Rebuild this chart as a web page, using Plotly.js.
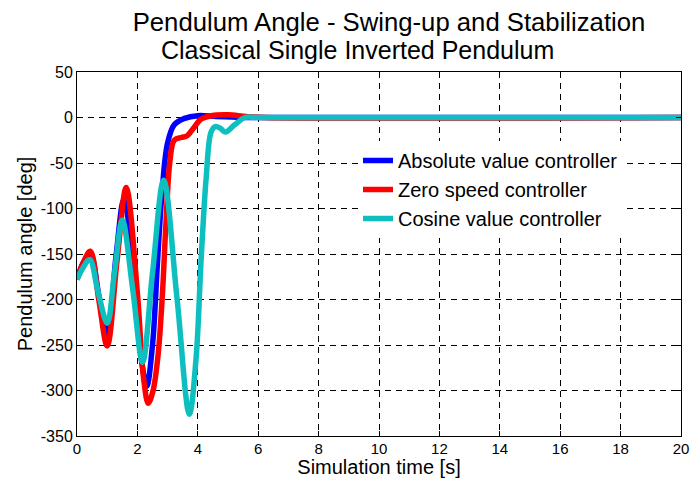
<!DOCTYPE html>
<html>
<head>
<meta charset="utf-8">
<script src="https://cdn.plot.ly/plotly-3.0.1.min.js"></script>
<style>html,body{margin:0;padding:0;background:#fff;}#chart{width:692px;height:478px;}</style>
</head>
<body>
<div id="chart"></div>
<script>
// Absolute value controller
const tAbs = [0, 0.2, 0.44, 0.72, 1.0, 1.3, 1.55, 1.95, 2.15, 2.31, 2.5, 2.67, 2.83, 3.0, 3.22, 3.56, 4.0, 4.6, 5.5, 6.5, 20];
const yAbs = [-178, -160, -150, -195, -240, -150, -91, -190, -270, -295, -250, -156, -76, -28, -8, -1, 2, 1, 0, 0, 0];
// Zero speed controller
const tZero = [0, 0.2, 0.44, 0.72, 1.0, 1.33, 1.63, 2.0, 2.2, 2.36, 2.52, 2.69, 2.83, 2.94, 3.08, 3.22, 3.45, 3.65, 3.85, 4.1, 4.45, 5.0, 5.6, 6.2, 20];
const yZero = [-178, -160, -147, -200, -251, -156, -77, -193, -285, -314, -300, -259, -193, -120, -47, -25, -22, -20, -12, -2, 2, 3, 1, 0, 0];
// Cosine value controller
const tCos = [0, 0.2, 0.42, 0.7, 1.0, 1.24, 1.5, 1.85, 2.17, 2.5, 2.87, 3.31, 3.72, 3.94, 4.11, 4.28, 4.44, 4.58, 4.75, 4.91, 5.22, 5.56, 6.0, 20];
const yCos = [-178, -165, -156, -192, -226, -171, -113, -190, -269, -171, -69, -198, -326, -266, -156, -65, -16, -10, -12, -16, -8, 0, 0, 0];

const seriesNames = ['Absolute value controller', 'Zero speed controller', 'Cosine value controller'];
const xTicks = [0, 2, 4, 6, 8, 10, 12, 14, 16, 18, 20];
const yTicks = [-350, -300, -250, -200, -150, -100, -50, 0, 50];
const yTickText = ['-350', '-300', '-250', '-200', '-150', '-100', '-50', '0', '50'];

const FONT = 'Liberation Sans, Arial, Helvetica, sans-serif';

const traces = [
  {x: tAbs, y: yAbs, name: seriesNames[0], mode: 'lines', line: {color: '#0000ff', width: 5.5, shape: 'spline', smoothing: 1}},
  {x: tZero, y: yZero, name: seriesNames[1], mode: 'lines', line: {color: '#ff0000', width: 5.5, shape: 'spline', smoothing: 1}},
  {x: tCos, y: yCos, name: seriesNames[2], mode: 'lines', line: {color: '#0dbfbf', width: 5.5, shape: 'spline', smoothing: 1}}
];

const axisCommon = {
  showline: true, linecolor: '#000', linewidth: 1, mirror: 'ticks',
  ticks: 'inside', ticklen: 5, tickcolor: '#000',
  showgrid: true, gridcolor: '#000', gridwidth: 1, griddash: '6px,5px',
  zeroline: false
};

const layout = {
  width: 692, height: 478,
  paper_bgcolor: '#fff', plot_bgcolor: '#fff',
  margin: {l: 77, r: 11, t: 72, b: 42},
  font: {family: FONT, color: '#000'},
  title: {text: 'Pendulum Angle - Swing-up and Stabilization', x: 389 / 692, xanchor: 'center', xref: 'container',
          y: 1 - 22 / 478, yanchor: 'middle', yref: 'container', font: {family: FONT, size: 25.7, color: '#000'}},
  annotations: [{text: 'Classical Single Inverted Pendulum', xref: 'paper', yref: 'paper', x: (357 - 77) / 604, y: (436 - 50) / 364,
                 xanchor: 'center', yanchor: 'middle', showarrow: false, font: {family: FONT, size: 25, color: '#000'}}],
  xaxis: Object.assign({}, axisCommon, {range: [0, 20], tickvals: xTicks, ticktext: xTicks.map(String),
    tickfont: {family: FONT, size: 15, color: '#000'}, ticklabelstandoff: -1,
    title: {text: 'Simulation time [s]', font: {family: FONT, size: 20, color: '#000'}, standoff: 1}}),
  yaxis: Object.assign({}, axisCommon, {range: [-350, 50], tickvals: yTicks, ticktext: yTickText,
    tickfont: {family: FONT, size: 16, color: '#000'},
    title: {text: 'Pendulum angle [deg]', font: {family: FONT, size: 20, color: '#000'}, standoff: 2}}),
  showlegend: true,
  legend: {x: (358 - 77) / 604, y: (436 - 141) / 364, xanchor: 'left', yanchor: 'top', bgcolor: '#fff', borderwidth: 0,
           font: {family: FONT, size: 20, color: '#000'}, itemwidth: 30, tracegroupgap: 0}
};

Plotly.newPlot('chart', traces, layout, {displayModeBar: false, staticPlot: true});
</script>
</body>
</html>
